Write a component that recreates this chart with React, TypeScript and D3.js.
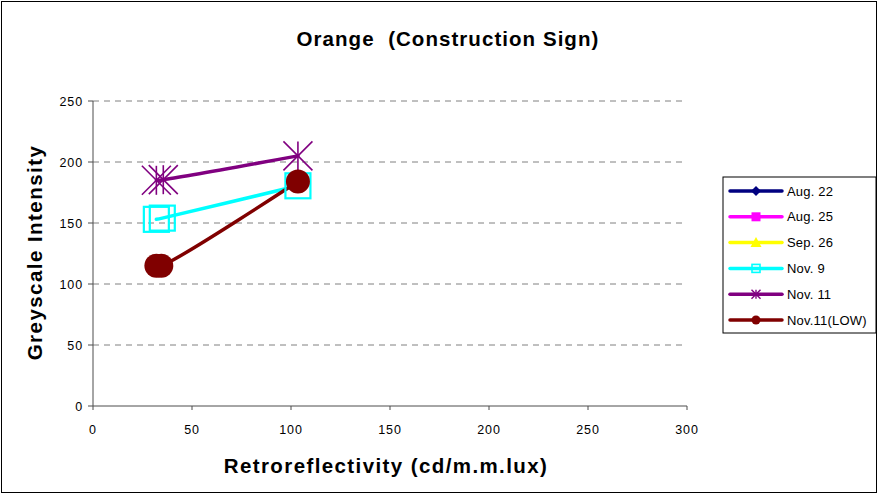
import React from "react";
import * as d3 from "d3";

const seriesNames = ["Aug. 22", "Aug. 25", "Sep. 26", "Nov. 9", "Nov. 11", "Nov.11(LOW)"];
const seriesColors = ["#000080", "#FF00FF", "#FFFF00", "#00FFFF", "#800080", "#800000"];
const seriesMarkers = ["diamond", "square", "triangle", "hollowSquare", "star", "circle"];
const xNov9 = [32, 35, 103.5];
const yNov9 = [153, 154, 180.5];
const xNov11 = [32, 35.5, 103.5];
const yNov11 = [185, 185.5, 205];
const xNov11Low = [32, 34.5, 103.5];
const yNov11Low = [115, 115, 184];
const xTicks = [0, 50, 100, 150, 200, 250, 300];
const yTicks = [0, 50, 100, 150, 200, 250];

const W = 878;
const H = 494;
const font = "Arial, 'Liberation Sans', sans-serif";

function Marker({ type, color, cx, cy, big }: { type: string; color: string; cx: number; cy: number; big: boolean }) {
  if (type === "diamond") {
    const s = 5;
    return <path d={`M${cx},${cy - s}L${cx + s},${cy}L${cx},${cy + s}L${cx - s},${cy}Z`} fill={color} />;
  }
  if (type === "square") {
    const s = 4.5;
    return <rect x={cx - s} y={cy - s} width={2 * s} height={2 * s} fill={color} />;
  }
  if (type === "triangle") {
    const s = 5.5;
    return <path d={`M${cx},${cy - s}L${cx + s},${cy + s * 0.8}L${cx - s},${cy + s * 0.8}Z`} fill={color} />;
  }
  if (type === "hollowSquare") {
    const s = big ? 12.5 : 4;
    return <rect x={cx - s} y={cy - s} width={2 * s} height={2 * s} fill="none" stroke={color} strokeWidth={big ? 2.2 : 1.6} />;
  }
  if (type === "star") {
    const s = big ? 14.5 : 4.5;
    const sw = big ? 1.6 : 1.4;
    return (
      <g stroke={color} strokeWidth={sw}>
        <line x1={cx - s} y1={cy - s} x2={cx + s} y2={cy + s} />
        <line x1={cx - s} y1={cy + s} x2={cx + s} y2={cy - s} />
        <line x1={cx} y1={cy - s} x2={cx} y2={cy + s} />
      </g>
    );
  }
  const r = big ? 12 : 4.5;
  return <circle cx={cx} cy={cy} r={r} fill={color} />;
}

export default function App() {
  const x = d3.scaleLinear().domain([0, 300]).range([93, 687]);
  const y = d3.scaleLinear().domain([0, 250]).range([406, 101]);
  const line = d3
    .line<[number, number]>()
    .x((d) => x(d[0]))
    .y((d) => y(d[1]))
    .curve(d3.curveCatmullRom.alpha(0.5));

  const plotted = [
    { idx: 3, xs: xNov9, ys: yNov9 },
    { idx: 4, xs: xNov11, ys: yNov11 },
    { idx: 5, xs: xNov11Low, ys: yNov11Low },
  ];

  const legendX = 723;
  const legendY = 177;
  const legendRow = 25.8;
  const axisColor = "#4d4d4d";

  return (
    <svg width={W} height={H} style={{ position: "absolute", left: 0, top: 0, display: "block" }} fontFamily={font}>
      <rect x={0} y={0} width={W} height={H} fill="#fff" />
      <rect x={1.5} y={1.5} width={W - 3} height={H - 3} fill="none" stroke="#000" strokeWidth={1} />

      <text x={448} y={46} textAnchor="middle" fontSize={20.5} fontWeight="bold" letterSpacing={1.05} xmlSpace="preserve">
        Orange  (Construction Sign)
      </text>

      {yTicks
        .filter((t) => t > 0)
        .map((t) => (
          <line key={"g" + t} x1={x(0)} x2={x(300)} y1={y(t)} y2={y(t)} stroke="#808080" strokeWidth={1} strokeDasharray="6,5" />
        ))}

      <line x1={x(0)} x2={x(0)} y1={y(0)} y2={y(250)} stroke={axisColor} strokeWidth={1} />
      <line x1={x(0)} x2={x(300)} y1={y(0)} y2={y(0)} stroke={axisColor} strokeWidth={1} />
      {yTicks.map((t) => (
        <g key={"y" + t}>
          <line x1={x(0) - 5} x2={x(0)} y1={y(t)} y2={y(t)} stroke={axisColor} />
          <text x={x(0) - 10} y={y(t) + 4.5} textAnchor="end" fontSize={12.5} letterSpacing={0.9}>
            {t}
          </text>
        </g>
      ))}
      {xTicks.map((t) => (
        <g key={"x" + t}>
          <line x1={x(t)} x2={x(t)} y1={y(0)} y2={y(0) + 4} stroke={axisColor} />
          <text x={x(t)} y={y(0) + 28} textAnchor="middle" fontSize={12.5} letterSpacing={0.9}>
            {t}
          </text>
        </g>
      ))}

      <text x={386} y={473} textAnchor="middle" fontSize={20.5} fontWeight="bold" letterSpacing={1.4}>
        Retroreflectivity (cd/m.m.lux)
      </text>
      <text transform={`translate(42,252.5) rotate(-90)`} textAnchor="middle" fontSize={20.5} fontWeight="bold" letterSpacing={1.45}>
        Greyscale Intensity
      </text>

      {plotted.map((s) => {
        const pts = s.xs.map((v, i) => [v, s.ys[i]] as [number, number]);
        return (
          <path key={"l" + s.idx} d={line(pts) || ""} fill="none" stroke={seriesColors[s.idx]} strokeWidth={3.5} strokeLinejoin="round" strokeLinecap="round" />
        );
      })}
      {plotted.map((s) =>
        s.xs.map((v, i) => (
          <Marker key={"m" + s.idx + "-" + i} type={seriesMarkers[s.idx]} color={seriesColors[s.idx]} cx={x(v)} cy={y(s.ys[i])} big={true} />
        ))
      )}

      <rect x={legendX} y={legendY} width={153} height={156} fill="#fff" stroke="#000" strokeWidth={1} />
      {seriesNames.map((n, i) => {
        const cy = legendY + 14 + i * legendRow;
        return (
          <g key={"lg" + i}>
            <line x1={legendX + 7} x2={legendX + 59} y1={cy} y2={cy} stroke={seriesColors[i]} strokeWidth={3.5} strokeLinecap="round" />
            <Marker type={seriesMarkers[i]} color={seriesColors[i]} cx={legendX + 33} cy={cy} big={false} />
            <text x={legendX + 64} y={cy + 4.5} fontSize={13} letterSpacing={0.2} xmlSpace="preserve">
              {n}
            </text>
          </g>
        );
      })}
    </svg>
  );
}
